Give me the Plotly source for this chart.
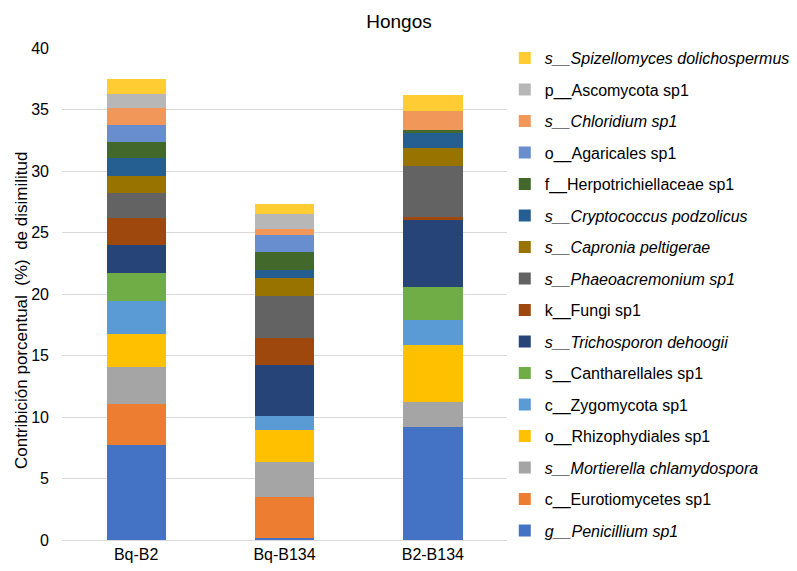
import plotly.graph_objects as go

categories = ["Bq-B2", "Bq-B134", "B2-B134"]

series_names = [
    "<i>g__Penicillium sp1</i>",
    "c__Eurotiomycetes sp1",
    "<i>s__Mortierella chlamydospora</i>",
    "o__Rhizophydiales sp1",
    "c__Zygomycota sp1",
    "s__Cantharellales sp1",
    "<i>s__Trichosporon dehoogii</i>",
    "k__Fungi sp1",
    "<i>s__Phaeoacremonium sp1</i>",
    "<i>s__Capronia peltigerae</i>",
    "<i>s__Cryptococcus podzolicus</i>",
    "f__Herpotrichiellaceae sp1",
    "o__Agaricales sp1",
    "<i>s__Chloridium sp1</i>",
    "p__Ascomycota sp1",
    "<i>s__Spizellomyces dolichospermus</i>",
]

penicillium = [7.70, 0.14, 9.19]
eurotiomycetes = [3.35, 3.32, 0.0]
mortierella = [2.98, 2.89, 2.03]
rhizophydiales = [2.75, 2.57, 4.67]
zygomycota = [2.68, 1.13, 2.00]
cantharellales = [2.27, 0.0, 2.65]
trichosporon = [2.24, 4.17, 5.49]
fungi = [2.17, 2.24, 0.19]
phaeoacremonium = [2.05, 3.35, 4.16]
capronia = [1.43, 1.49, 1.48]
cryptococcus = [1.41, 0.65, 1.30]
herpotrichiellaceae = [1.35, 1.43, 0.14]
agaricales = [1.40, 1.40, 0.0]
chloridium = [1.36, 0.49, 1.57]
ascomycota = [1.13, 1.27, 0.0]
spizellomyces = [1.22, 0.81, 1.27]

series_values = [
    penicillium, eurotiomycetes, mortierella, rhizophydiales, zygomycota,
    cantharellales, trichosporon, fungi, phaeoacremonium, capronia,
    cryptococcus, herpotrichiellaceae, agaricales, chloridium, ascomycota,
    spizellomyces,
]

colors = [
    "#4472C4", "#ED7D31", "#A5A5A5", "#FFC000", "#5B9BD5", "#70AD47",
    "#264478", "#9E480E", "#636363", "#997300", "#255E91", "#43682B",
    "#698ED0", "#F1975A", "#B7B7B7", "#FFCD33",
]

y_ticks = [0, 5, 10, 15, 20, 25, 30, 35, 40]
y_title = "Contribición porcentual  (%)  de disimilitud"

n = len(series_names)
fig = go.Figure()
for i, (name, vals, col) in enumerate(zip(series_names, series_values, colors)):
    fig.add_trace(go.Bar(
        x=categories, y=vals, name=name, legendgroup=f"g{i}",
        legendrank=n - i,
        marker=dict(color=col, line=dict(width=0)),
    ))

font_family = "Liberation Sans, Arial, sans-serif"

fig.add_annotation(
    text=y_title, textangle=-90, xref="paper", yref="paper",
    x=-0.0921, y=0.4654, xanchor="center", yanchor="middle",
    showarrow=False, font=dict(size=17, color="#000000", family=font_family),
)

fig.update_layout(
    barmode="stack",
    bargap=0.6,
    width=797, height=571,
    margin=dict(l=54, r=298, t=40, b=39, autoexpand=False),
    plot_bgcolor="white",
    paper_bgcolor="white",
    font=dict(family=font_family, color="#595959", size=16),
    title=dict(text="Hongos", x=391 / 797, xanchor="center", xref="container",
               y=1 - 13 / 571, yanchor="middle", yref="container",
               font=dict(size=19, color="#000000", family=font_family)),
    legend=dict(
        x=0.995, xanchor="left", y=1.014, yanchor="top",
        traceorder="grouped", tracegroupgap=7.7, maxheight=1.0,
        font=dict(size=16, color="#000000", family=font_family),
        itemwidth=30, bgcolor="rgba(0,0,0,0)",
    ),
    xaxis=dict(
        showline=True, linecolor="#D9D9D9", linewidth=1,
        tickfont=dict(size=16, color="#000000"), ticks="",
    ),
    yaxis=dict(
        range=[0, 40], tickvals=y_ticks, showgrid=True, gridcolor="#D9D9D9",
        zeroline=False, showline=False, ticks="", ticklabelstandoff=12,
        tickfont=dict(size=16, color="#000000"),
    ),
)

fig.write_html("out.html")
